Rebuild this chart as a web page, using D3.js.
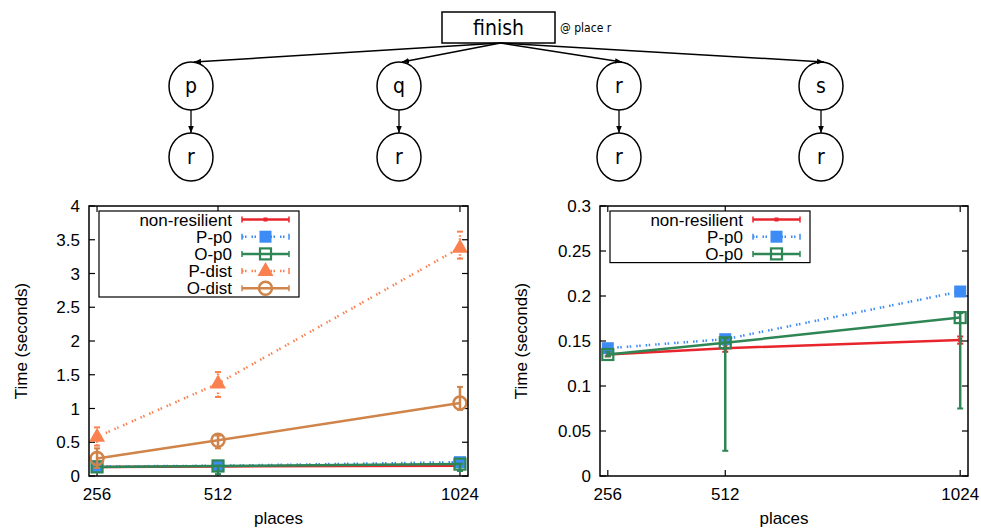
<!DOCTYPE html>
<html lang="en">
<head>
<meta charset="UTF-8">
<script src="https://d3js.org/d3.v7.min.js"></script>
<title>finish @ place r</title>
<style>
  body { margin: 0; background: #fff; }
  text { font-family: "Liberation Sans", Arial, sans-serif; fill: #000; }
  .tree text { font-family: "Liberation Sans Narrow", "DejaVu Sans Condensed", sans-serif; }
</style>
</head>
<body>
<div id="chart"></div>
<script>

// ---- data ----
var places = [256, 512, 1024];
var xTicks = [256, 512, 1024];

var nonRes    = [0.135, 0.142, 0.151];
var nonResLo  = [0.133, 0.138, 0.147];
var nonResHi  = [0.137, 0.146, 0.155];

var pP0   = [0.142, 0.152, 0.205];
var pP0Lo = [0.139, 0.149, 0.202];
var pP0Hi = [0.145, 0.155, 0.209];

var oP0   = [0.135, 0.148, 0.176];
var oP0Lo = [0.133, 0.028, 0.075];
var oP0Hi = [0.138, 0.153, 0.181];

var pDist   = [0.58, 1.37, 3.38];
var pDistLo = [0.45, 1.17, 3.22];
var pDistHi = [0.72, 1.54, 3.62];

var oDist   = [0.26, 0.53, 1.08];
var oDistLo = [0.12, 0.41, 0.98];
var oDistHi = [0.41, 0.60, 1.32];

var leftYTicks  = [0, 0.5, 1, 1.5, 2, 2.5, 3, 3.5, 4];
var rightYTicks = [0, 0.05, 0.1, 0.15, 0.2, 0.25, 0.3];

// tree labels
var treeTop = ["p", "q", "r", "s"];
var treeBottom = ["r", "r", "r", "r"];

var W = 981, H = 530;
var svg = d3.select("#chart").append("svg")
    .attr("width", W).attr("height", H);

var defs = svg.append("defs");
defs.append("marker")
    .attr("id", "arr")
    .attr("viewBox", "0 0 10 10")
    .attr("refX", 10).attr("refY", 5)
    .attr("markerWidth", 7).attr("markerHeight", 7)
    .attr("markerUnits", "userSpaceOnUse")
    .attr("orient", "auto")
  .append("path").attr("d", "M0,1 L10,5 L0,9 Z").attr("fill", "#000");

// ---- tree diagram ----
var tree = svg.append("g").attr("class", "tree");
var nodeXs = [191, 399, 619, 821];   // not evenly spaced in the picture
var rx = 22, ry = 24, y1 = 86, y2 = 157;
var box = {x: 442, y: 12, w: 113, h: 31};

tree.append("rect")
    .attr("x", box.x).attr("y", box.y).attr("width", box.w).attr("height", box.h)
    .attr("fill", "#fff").attr("stroke", "#000").attr("stroke-width", 1.5);
tree.append("text")
    .attr("x", box.x + box.w / 2).attr("y", box.y + box.h / 2 + 7)
    .attr("text-anchor", "middle").style("font-size", "21px").text("finish");
tree.append("text")
    .attr("x", 560).attr("y", 32).style("font-size", "12px").text("@ place r");

treeTop.forEach(function(lab, i) {
  var cx = nodeXs[i];
  tree.append("line")
      .attr("x1", box.x + box.w / 2 + 2).attr("y1", box.y + box.h)
      .attr("x2", cx + 3).attr("y2", y1 - ry)
      .attr("stroke", "#000").attr("stroke-width", 1.5)
      .attr("marker-end", "url(#arr)");
  tree.append("line")
      .attr("x1", cx).attr("y1", y1 + ry)
      .attr("x2", cx).attr("y2", y2 - ry)
      .attr("stroke", "#000").attr("stroke-width", 1.3)
      .attr("marker-end", "url(#arr)");
  [[y1, lab], [y2, treeBottom[i]]].forEach(function(n) {
    tree.append("ellipse")
        .attr("cx", cx).attr("cy", n[0]).attr("rx", rx).attr("ry", ry)
        .attr("fill", "none").attr("stroke", "#000").attr("stroke-width", 1.5);
    tree.append("text")
        .attr("x", cx).attr("y", n[0] + 7)
        .attr("text-anchor", "middle").style("font-size", "21px").text(n[1]);
  });
});

// ---- series styles ----
var dotted = "1.5,1.5,1.5,5";
var series = {
  nonRes: {name: "non-resilient", color: "#e8242c", dash: null, mark: "dot",
           v: nonRes, lo: nonResLo, hi: nonResHi},
  pP0:    {name: "P-p0", color: "#3d8bf5", dash: dotted, mark: "fsquare",
           v: pP0, lo: pP0Lo, hi: pP0Hi},
  oP0:    {name: "O-p0", color: "#2e8655", dash: null, mark: "osquare",
           v: oP0, lo: oP0Lo, hi: oP0Hi},
  pDist:  {name: "P-dist", color: "#fb8050", dash: dotted, mark: "triangle",
           v: pDist, lo: pDistLo, hi: pDistHi},
  oDist:  {name: "O-dist", color: "#d0844a", dash: null, mark: "ocircle",
           v: oDist, lo: oDistLo, hi: oDistHi}
};

function drawMark(g, type, x, y, color) {
  if (type == "dot") {
    g.append("rect").attr("x", x - 2).attr("y", y - 2).attr("width", 4).attr("height", 4)
        .attr("fill", color);
  } else if (type == "fsquare") {
    g.append("rect").attr("x", x - 6).attr("y", y - 6).attr("width", 12).attr("height", 12)
        .attr("fill", color);
  } else if (type == "osquare") {
    g.append("rect").attr("x", x - 5.5).attr("y", y - 5.5).attr("width", 11).attr("height", 11)
        .attr("fill", "none").attr("stroke", color).attr("stroke-width", 2.2);
  } else if (type == "triangle") {
    g.append("path")
        .attr("d", "M" + x + "," + (y - 9) + " L" + (x + 8) + "," + (y + 5) + " L" + (x - 8) + "," + (y + 5) + " Z")
        .attr("fill", color);
  } else if (type == "ocircle") {
    g.append("circle").attr("cx", x).attr("cy", y).attr("r", 6.5)
        .attr("fill", "none").attr("stroke", color).attr("stroke-width", 2.5);
  }
}

// ---- one panel ----
function panel(opt) {
  var g = svg.append("g");
  var x = d3.scaleLinear().domain([239, 1041]).range([opt.left, opt.right]);
  var y = d3.scaleLinear().domain([0, opt.ymax]).range([476, 206]);

  // ticks (inside, mirrored)
  opt.yTicks.forEach(function(t) {
    g.append("line").attr("x1", opt.left).attr("x2", opt.left + 6)
        .attr("y1", y(t)).attr("y2", y(t)).attr("stroke", "#000").attr("stroke-width", 1.2);
    g.append("line").attr("x1", opt.right).attr("x2", opt.right - 6)
        .attr("y1", y(t)).attr("y2", y(t)).attr("stroke", "#000").attr("stroke-width", 1.2);
    g.append("text").attr("x", opt.left - 9).attr("y", y(t) + 6)
        .attr("text-anchor", "end").style("font-size", "17px").text(t);
  });
  xTicks.forEach(function(t) {
    g.append("line").attr("x1", x(t)).attr("x2", x(t))
        .attr("y1", 476).attr("y2", 470).attr("stroke", "#000").attr("stroke-width", 1.2);
    g.append("line").attr("x1", x(t)).attr("x2", x(t))
        .attr("y1", 206).attr("y2", 212).attr("stroke", "#000").attr("stroke-width", 1.2);
    g.append("text").attr("x", x(t)).attr("y", 500)
        .attr("text-anchor", "middle").style("font-size", "17px").text(t);
  });

  g.append("text")
      .attr("transform", "translate(" + opt.titleX + ",341) rotate(-90)")
      .attr("text-anchor", "middle").style("font-size", "17px").text("Time (seconds)");
  g.append("text")
      .attr("x", (opt.left + opt.right) / 2).attr("y", 524)
      .attr("text-anchor", "middle").style("font-size", "17px").text("places");

  // series
  var line = d3.line().x(function(d) { return x(d[0]); }).y(function(d) { return y(d[1]); });
  opt.keys.forEach(function(k) {
    var s = series[k];
    var pts = places.map(function(p, i) { return [p, s.v[i]]; });
    // error bars
    places.forEach(function(p, i) {
      var eb = g.append("g");
      eb.append("line").attr("x1", x(p)).attr("x2", x(p))
          .attr("y1", y(s.lo[i])).attr("y2", y(s.hi[i]))
          .attr("stroke", s.color).attr("stroke-width", 2.5)
          .attr("stroke-dasharray", s.dash);
      [s.lo[i], s.hi[i]].forEach(function(e) {
        eb.append("line").attr("x1", x(p) - 3).attr("x2", x(p) + 3)
            .attr("y1", y(e)).attr("y2", y(e))
            .attr("stroke", s.color).attr("stroke-width", 2);
      });
    });
    g.append("path").datum(pts).attr("d", line)
        .attr("fill", "none").attr("stroke", s.color).attr("stroke-width", 2.5)
        .attr("stroke-dasharray", s.dash);
    pts.forEach(function(d) { drawMark(g, s.mark, x(d[0]), y(d[1]), s.color); });
  });

  // border
  g.append("rect").attr("x", opt.left).attr("y", 206)
      .attr("width", opt.right - opt.left).attr("height", 270)
      .attr("fill", "none").attr("stroke", "#000").attr("stroke-width", 1.5);

  // legend
  var lg = g.append("g");
  lg.append("rect").attr("x", opt.legX).attr("y", 211)
      .attr("width", 200).attr("height", 17.2 * opt.keys.length)
      .attr("fill", "#fff").attr("stroke", "#000").attr("stroke-width", 1.2);
  opt.keys.forEach(function(k, i) {
    var s = series[k], yy = 219.5 + i * 17.2;
    var tx = opt.legX + 133, l0 = opt.legX + 143, l1 = opt.legX + 190;
    lg.append("text").attr("x", tx).attr("y", yy + 6)
        .attr("text-anchor", "end").style("font-size", "17px").text(s.name);
    lg.append("line").attr("x1", l0).attr("x2", l1).attr("y1", yy).attr("y2", yy)
        .attr("stroke", s.color).attr("stroke-width", 2.5).attr("stroke-dasharray", s.dash);
    [l0, l1].forEach(function(e) {
      lg.append("line").attr("x1", e).attr("x2", e).attr("y1", yy - 3).attr("y2", yy + 3)
          .attr("stroke", s.color).attr("stroke-width", 1.5);
    });
    drawMark(lg, s.mark, (l0 + l1) / 2, yy, s.color);
  });
}

panel({left: 89, right: 468, ymax: 4, yTicks: leftYTicks, titleX: 27, legX: 99,
       keys: ["nonRes", "pP0", "oP0", "pDist", "oDist"]});
panel({left: 600, right: 968, ymax: 0.3, yTicks: rightYTicks, titleX: 527, legX: 610,
       keys: ["nonRes", "pP0", "oP0"]});

</script>
</body>
</html>
